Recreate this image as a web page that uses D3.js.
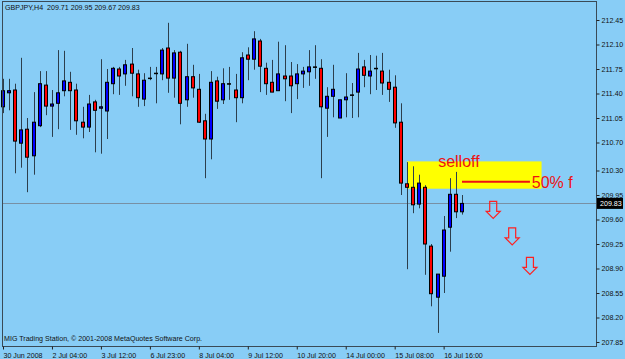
<!DOCTYPE html>
<html>
<head>
<meta charset="utf-8">
<script src="https://cdn.jsdelivr.net/npm/d3@7"></script>
<style>
body { margin: 0; background: #88cdf6; }
svg { display: block; }
text { font-family: "Liberation Sans", Arial, sans-serif; }
</style>
</head>
<body>
<script>
var width = 625,
    height = 359;

// GBPJPY H4 bars, oldest first
var opens = [211.21, 211.41, 211.45, 210.69, 210.89, 210.51, 210.94, 211.52, 211.22, 211.26,
  211.44, 211.56, 211.45, 210.99, 210.92, 211.28, 211.19, 211.15, 211.54, 211.75,
  211.68, 211.82, 211.68, 211.32, 211.62, 211.69, 211.68, 212.05, 211.62, 211.99,
  211.31, 211.64, 211.46, 211.01, 210.75, 211.58, 211.31, 211.54, 211.45, 211.34,
  211.95, 211.89, 212.15, 211.76, 211.56, 211.44, 211.65, 211.65, 211.54, 211.68,
  211.71, 211.78, 211.76, 211.19, 211.36, 211.05, 211.31, 211.38, 211.42, 211.78,
  211.65, 211.76, 211.72, 211.56, 211.49, 210.99, 210.11, 210.06, 209.82, 210.06,
  209.22, 208.49, 208.79, 209.49, 209.96, 209.71];
var highs = [211.61, 211.61, 211.54, 211.91, 211.05, 211.42, 211.72, 211.72, 211.45, 212.02,
  212.01, 211.71, 211.54, 211.21, 211.38, 211.31, 211.89, 211.75, 211.78, 211.78,
  211.88, 212.05, 211.74, 211.69, 211.78, 211.78, 212.05, 212.41, 212.02, 212.01,
  212.11, 211.81, 211.68, 211.11, 211.72, 211.64, 211.76, 211.78, 211.68, 211.99,
  212.06, 212.29, 212.18, 211.84, 211.88, 212.14, 212.09, 211.85, 211.82, 211.78,
  212.02, 212.09, 211.89, 211.49, 211.81, 211.31, 211.69, 211.55, 211.98, 211.88,
  211.95, 211.94, 211.98, 211.74, 211.66, 211.26, 210.42, 210.36, 210.24, 210.09,
  209.25, 208.82, 209.65, 210.19, 210.28, 209.95];
var lows = [211.12, 211.16, 210.26, 210.34, 209.99, 210.24, 210.92, 211.09, 210.78, 210.89,
  211.36, 210.88, 210.81, 210.76, 210.85, 210.56, 210.54, 210.75, 211.39, 211.38,
  211.51, 211.36, 211.21, 211.22, 211.59, 211.26, 211.59, 211.41, 211.34, 210.96,
  211.21, 211.34, 210.98, 210.19, 210.46, 211.18, 211.25, 211.31, 210.99, 211.26,
  211.59, 211.74, 211.42, 211.38, 211.42, 211.44, 211.29, 211.12, 211.32, 211.48,
  211.51, 211.61, 210.19, 210.78, 211.06, 211.05, 211.06, 211.05, 211.06, 211.49,
  211.39, 211.45, 211.38, 211.28, 210.91, 209.95, 208.89, 209.69, 209.76, 208.81,
  208.36, 207.98, 208.55, 209.14, 209.62, 209.67];
var closes = [211.44, 211.44, 210.72, 210.88, 210.49, 210.99, 211.54, 211.22, 211.25, 211.41,
  211.58, 211.44, 211.01, 210.92, 211.25, 211.16, 211.21, 211.56, 211.76, 211.65,
  211.81, 211.69, 211.34, 211.59, 211.62, 211.69, 212.02, 211.62, 211.98, 211.26,
  211.64, 211.48, 210.99, 210.75, 211.56, 211.29, 211.54, 211.54, 211.34, 211.91,
  211.89, 212.18, 211.79, 211.54, 211.42, 211.68, 211.61, 211.51, 211.68, 211.72,
  211.78, 211.78, 211.21, 211.36, 211.46, 211.31, 211.35, 211.38, 211.75, 211.66,
  211.72, 211.76, 211.55, 211.46, 210.98, 210.12, 210.06, 209.81, 210.12, 209.25,
  208.54, 208.82, 209.45, 209.96, 209.71, 209.83];

var timeTicks = [0, 8, 16, 24, 32, 40, 48, 56, 64, 72];
var timeLabels = ["30 Jun 2008", "2 Jul 04:00", "3 Jul 12:00", "6 Jul 23:00", "8 Jul 04:00",
  "9 Jul 12:00", "10 Jul 20:00", "14 Jul 00:00", "15 Jul 08:00", "16 Jul 16:00"];
var priceTicks = [212.45, 212.10, 211.75, 211.40, 211.05, 210.70, 210.30,
  209.95, 209.60, 209.25, 208.90, 208.55, 208.20, 207.85];

// hand drawn objects (bar index, price)
var zoneBars = [66, 88], zonePrices = [210.43, 210.04];
var fibBars = [75, 86.1], fibPrice = 210.14;
var arrowBars = [80.1, 83.2, 86.1], arrowPrices = [209.86, 209.48, 209.06];

var last = closes[closes.length - 1];
var fs = 7.1; //small text size

var x = d3.scaleLinear().domain([0, 75]).range([3, 462]);
var y = d3.scaleLinear().domain([207.85, 212.45]).range([342, 20]);

var svg = d3.select("body").append("svg")
  .attr("width", width)
  .attr("height", height);

svg.append("rect") //background
  .attr("width", width)
  .attr("height", height)
  .attr("fill", "#88cdf6");

// yellow zone + annotations (behind candles)
svg.append("rect")
  .attr("x", x(zoneBars[0]))
  .attr("y", y(zonePrices[0]))
  .attr("width", x(zoneBars[1]) - x(zoneBars[0]))
  .attr("height", y(zonePrices[1]) - y(zonePrices[0]))
  .attr("fill", "#ffff00");

svg.append("line")
  .attr("x1", x(fibBars[0])).attr("x2", x(fibBars[1]))
  .attr("y1", y(fibPrice)).attr("y2", y(fibPrice))
  .attr("stroke", "#ee1111")
  .attr("stroke-width", 2);

svg.append("text")
  .attr("x", x(71.1))
  .attr("y", y(210.35))
  .attr("font-size", 16)
  .attr("fill", "#ee1111")
  .text("selloff");

svg.append("text")
  .attr("x", x(86.4))
  .attr("y", y(210.05))
  .attr("font-size", 16)
  .attr("fill", "#ee1111")
  .text("50% f");

// current price line
svg.append("line")
  .attr("x1", 3).attr("x2", 596)
  .attr("y1", Math.round(y(last)) + 0.5).attr("y2", Math.round(y(last)) + 0.5)
  .attr("stroke", "#7890a4");

// candles
var idx = d3.range(opens.length);
var candle = svg.selectAll("g.candle").data(idx).enter().append("g");

candle.append("line") //wick
  .attr("x1", function(i){ return Math.round(x(i)) + 0.5; })
  .attr("x2", function(i){ return Math.round(x(i)) + 0.5; })
  .attr("y1", function(i){ return y(highs[i]); })
  .attr("y2", function(i){ return y(lows[i]); })
  .attr("stroke", "#2c3e4c");

candle.append("rect") //body
  .attr("x", function(i){ return Math.round(x(i)) - 1.5; })
  .attr("y", function(i){ return y(Math.max(opens[i], closes[i])); })
  .attr("width", 3)
  .attr("height", function(i){ return Math.max(0.5, Math.abs(y(opens[i]) - y(closes[i]))); })
  .attr("fill", function(i){ return closes[i] > opens[i] ? "#0000ff" : (closes[i] < opens[i] ? "#ff0000" : "#000"); })
  .attr("stroke", "#000")
  .attr("stroke-width", 1);

// arrows
svg.selectAll("path.arrow").data(arrowBars).enter().append("path")
  .attr("d", function(d, i) {
    var cx = x(d), ty = y(arrowPrices[i]);
    return "M" + (cx - 3.5) + "," + ty + "H" + (cx + 3.5) + "V" + (ty + 10) +
      "H" + (cx + 7) + "L" + cx + "," + (ty + 17) + "L" + (cx - 7) + "," + (ty + 10) +
      "H" + (cx - 3.5) + "Z";
  })
  .attr("fill", "none")
  .attr("stroke", "#ff2020")
  .attr("stroke-width", 1.2);

// frame
svg.append("rect")
  .attr("x", 2.5).attr("y", 1.5)
  .attr("width", 594).attr("height", 345)
  .attr("fill", "none")
  .attr("stroke", "#3a4a56");

// price axis
var yAxis = svg.append("g")
  .attr("transform", "translate(596.5,0)")
  .call(d3.axisRight(y).tickValues(priceTicks).tickSize(3).tickPadding(2).tickFormat(d3.format(".2f")));
yAxis.select(".domain").remove();
yAxis.selectAll("line").attr("stroke", "#222");
yAxis.selectAll("text").attr("font-size", fs).attr("fill", "#111").attr("font-family", "Liberation Sans, Arial");

// last price tag
svg.append("rect")
  .attr("x", 597).attr("y", y(last) - 5.5)
  .attr("width", 26).attr("height", 11)
  .attr("fill", "#000");
svg.append("text")
  .attr("x", 600).attr("y", y(last) + 2.5)
  .attr("font-size", fs)
  .attr("fill", "#fff")
  .text(d3.format(".2f")(last));

// time axis
var xAxis = svg.append("g")
  .attr("transform", "translate(0,346.5)")
  .call(d3.axisBottom(x).tickValues(timeTicks).tickSize(3)
    .tickFormat(function(d, i){ return timeLabels[i]; }));
xAxis.select(".domain").remove();
xAxis.selectAll("line").attr("stroke", "#222");
xAxis.selectAll("text")
  .attr("text-anchor", "start")
  .attr("dx", 0)
  .attr("y", 6)
  .attr("font-size", fs)
  .attr("fill", "#111")
  .attr("font-family", "Liberation Sans, Arial");

// titles
svg.append("text")
  .attr("x", 5).attr("y", 10)
  .attr("font-size", fs)
  .attr("fill", "#111")
  .attr("xml:space", "preserve")
  .text("GBPJPY,H4  " + [opens[75], highs[75], lows[75], closes[75]].map(d3.format(".2f")).join(" "));

svg.append("text")
  .attr("x", 4).attr("y", 341)
  .attr("font-size", fs)
  .attr("fill", "#111")
  .text("MIG Trading Station, \u00a9 2001-2008 MetaQuotes Software Corp.");
</script>
</body>
</html>
